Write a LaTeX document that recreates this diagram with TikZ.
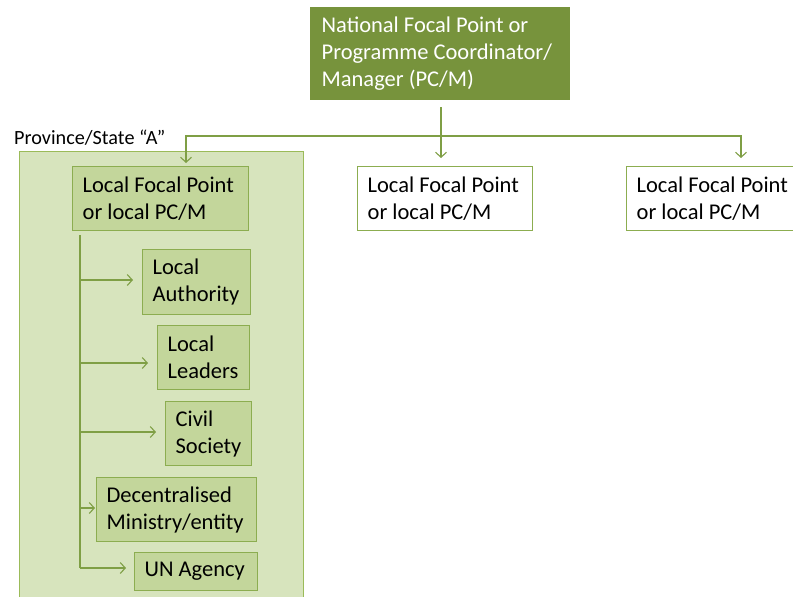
\documentclass[tikz,border=0pt]{standalone}
\usepackage{fontspec}
\setmainfont{Carlito}
\usetikzlibrary{arrows.meta}
\definecolor{dkgreen}{HTML}{77933C}
\definecolor{lnclr}{HTML}{7F9F45}
\definecolor{provfill}{HTML}{D7E4BD}
\definecolor{provline}{HTML}{9BBB59}
\definecolor{boxfill}{HTML}{C3D69B}
\definecolor{boxline}{HTML}{8CAD50}
\newcommand{\keepline}[1]{\mbox{#1}}
\begin{document}
\begin{tikzpicture}[x=1pt,y=-1pt,
 txt/.style={font=\fontsize{22.5}{27}\selectfont},
 gbox/.style={draw=boxline, line width=1.3pt, fill=boxfill, anchor=north west,
   align=flush left, inner xsep=10pt, inner ysep=0pt, txt},
 wbox/.style={gbox, fill=white},
 arr/.style={draw=lnclr, line width=1.1pt, -{Straight Barb[length=5pt,width=11pt]}},
 conn/.style={draw=lnclr, line width=1.1pt}]
\clip (0,0) rectangle (793,597);
\useasboundingbox (0,0) rectangle (793,597);
% province container
\node[draw=provline, line width=1.3pt, fill=provfill, anchor=north west,
  minimum width=284pt, minimum height=470pt, inner sep=0pt] (prov) at (19,151) {};
\node[anchor=base west, inner sep=0pt, font=\fontsize{20.2}{24}\selectfont] (provlbl) at (14,144) {Province/State “A”};
% national
\node[gbox, draw=dkgreen, fill=dkgreen, text=white, text width=237pt, inner xsep=11pt,
  minimum height=92pt] (nat) at (310,7) {\keepline{National Focal Point or}\\\keepline{Programme Coordinator/}\\\keepline{Manager (PC/M)}};
% local focal points
\node[gbox, text width=156pt, minimum height=64pt] (lfpA) at (72,166) {\keepline{Local Focal Point}\\\keepline{or local PC/M}};
\node[wbox, text width=155pt, minimum height=64pt] (lfpB) at (357,166) {\keepline{Local Focal Point}\\\keepline{or local PC/M}};
\node[wbox, text width=160pt, minimum height=64pt] (lfpC) at (626,166) {\keepline{Local Focal Point}\\\keepline{or local PC/M}};
% children
\node[gbox, text width=88pt, minimum height=65pt] (auth) at (142,249) {Local\\Authority};
\node[gbox, text width=72pt, minimum height=64pt] (lead) at (157,325) {Local\\Leaders};
\node[gbox, text width=66pt, minimum height=64pt] (civ) at (165,401) {Civil\\Society};
\node[gbox, text width=140pt, minimum height=64pt] (dec) at (96,477) {Decentralised\\\keepline{Ministry/entity}};
\node[gbox, text width=103pt, minimum height=38pt] (un) at (134,552) {\keepline{UN Agency}};
% top connectors
\coordinate (j) at (441,136);
\draw[conn, shorten <=7pt] (nat.south -| j) -- (j);
\draw[arr, shorten >=3pt] (j) -| ([xshift=114pt]lfpA.north west);
\draw[arr, shorten >=8pt] (j) -- (j |- lfpB.north);
\draw[arr, shorten >=8pt] (j) -| ([xshift=115pt]lfpC.north west);
% trunk
\coordinate (b1) at (80,280);
\coordinate (b2) at (80,363);
\coordinate (b3) at (80,432);
\coordinate (b4) at (80,508);
\coordinate (b5) at (80,568);
\draw[conn, shorten <=4pt] (lfpA.south -| b1) -- (b5);
\draw[arr, shorten >=9pt] (b1) -- (auth.west |- b1);
\draw[arr, shorten >=9pt] (b2) -- (lead.west |- b2);
\draw[arr, shorten >=9pt] (b3) -- (civ.west |- b3);
\draw[arr, shorten >=1pt] (b4) -- (dec.west |- b4);
\draw[arr, shorten >=8pt] (b5) -- (un.west |- b5);
\end{tikzpicture}
\end{document}
